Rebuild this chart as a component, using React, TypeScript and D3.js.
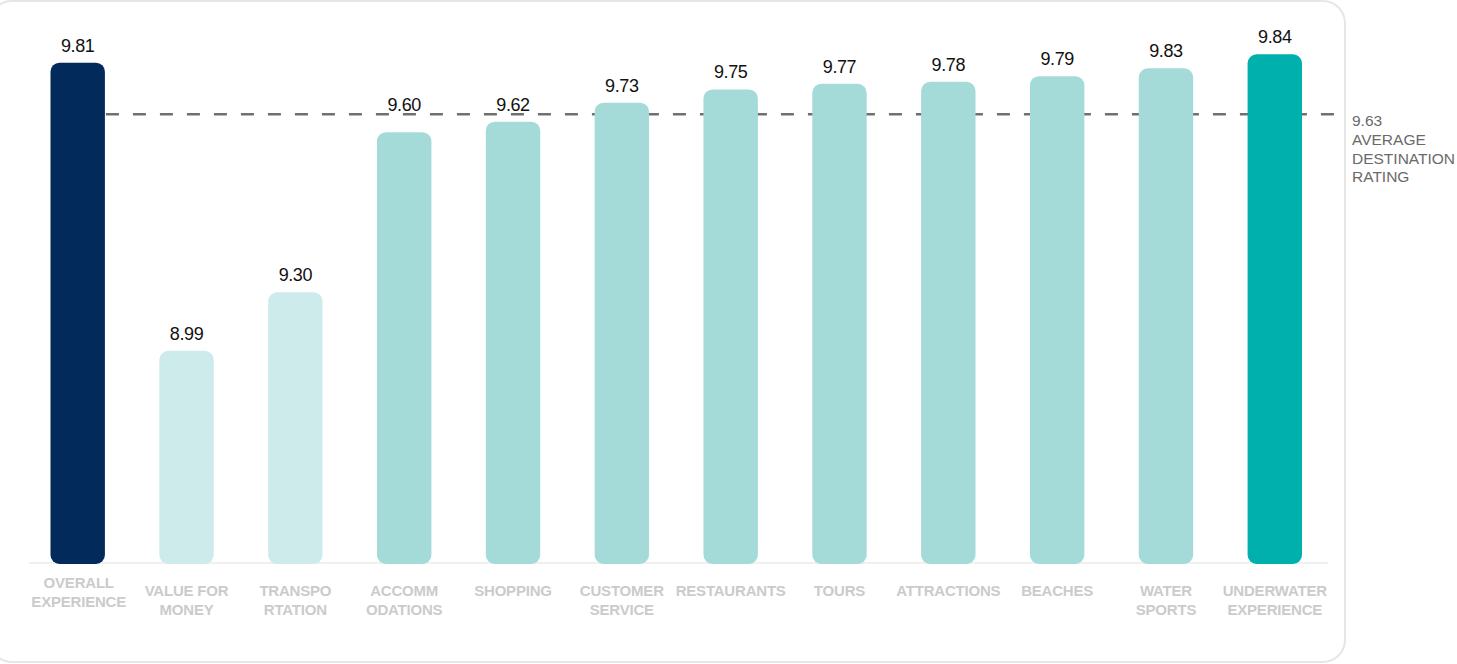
import React from "react";
import * as d3 from "d3";

const categories: string[][] = [
  ["OVERALL", "EXPERIENCE"],
  ["VALUE FOR", "MONEY"],
  ["TRANSPO", "RTATION"],
  ["ACCOMM", "ODATIONS"],
  ["SHOPPING"],
  ["CUSTOMER", "SERVICE"],
  ["RESTAURANTS"],
  ["TOURS"],
  ["ATTRACTIONS"],
  ["BEACHES"],
  ["WATER", "SPORTS"],
  ["UNDERWATER", "EXPERIENCE"],
];
const ratings: number[] = [9.81, 8.99, 9.3, 9.6, 9.62, 9.73, 9.75, 9.77, 9.78, 9.79, 9.83, 9.84];
// Bar heights as drawn in the infographic (index, tallest bar = 100); the artwork is not to scale.
const barLevels: number[] = [98.35, 41.7, 53.2, 84.7, 86.75, 90.5, 93.1, 94.2, 94.6, 95.7, 97.25, 100];
const barTone: string[] = ["overall", "low", "low", "mid", "mid", "mid", "mid", "mid", "mid", "mid", "mid", "top"];
const averageRating = 9.63;
const averageLevel = 88.2;
const averageLabel: string[] = ["AVERAGE", "DESTINATION", "RATING"];

const toneColor: Record<string, string> = {
  overall: "#022b5b",
  low: "#cdebea",
  mid: "#a4dbd9",
  top: "#00b0ad",
};

export default function App() {
  const W = 1457;
  const H = 664;
  const baseY = 563;
  const keys = categories.map((c) => c.join(" "));
  const x = d3.scaleBand<string>().domain(keys).range([50.5, 1302]).paddingInner(0.5).paddingOuter(0);
  const y = d3.scaleLinear().domain([0, 100]).range([baseY, 54.3]);
  const bw = x.bandwidth();
  const avgY = y(averageLevel);
  const fontValue = "'Liberation Sans', Arial, sans-serif";

  const labelY = (top: number) => {
    let b = top - 11;
    // keep value labels clear of the dashed average line
    if (b > avgY - 3 && b - 13 < avgY + 2) b = avgY - 3;
    return b;
  };

  return (
    <div style={{ position: "fixed", left: 0, top: 0, width: W, height: H, background: "#fff" }}>
      <svg width={W} height={H} style={{ display: "block" }}>
        <rect x={-10} y={1} width={1355} height={661} rx={22} fill="#fff" stroke="#e6e6e6" strokeWidth={2} />
        <line x1={29} x2={1328} y1={baseY} y2={baseY} stroke="#f0f0f0" strokeWidth={2} />
        <line
          x1={(x(keys[0]) ?? 0) + bw + 1}
          x2={1343}
          y1={avgY}
          y2={avgY}
          stroke="#707070"
          strokeWidth={2.5}
          strokeDasharray="13 14"
        />
        {keys.map((k, i) => {
          const x0 = x(k) ?? 0;
          const top = y(barLevels[i]);
          return (
            <g key={k}>
              <path
                d={roundedRect(x0, top, bw, baseY + 1 - top, 9)}
                fill={toneColor[barTone[i]]}
              />
              <text
                x={x0 + bw / 2}
                y={labelY(top)}
                textAnchor="middle"
                fontFamily={fontValue}
                fontSize={18}
                letterSpacing={-0.4}
                fill="#111"
              >
                {ratings[i].toFixed(2)}
              </text>
              {categories[i].map((line, j) => (
                <text
                  key={j}
                  x={x0 + bw / 2 + (i === 0 ? 1 : 0)}
                  y={(i === 0 ? 588 : 596) + j * 18.5}
                  textAnchor="middle"
                  fontFamily={fontValue}
                  fontWeight={700}
                  fontSize={15}
                  letterSpacing={-0.2}
                  fill="#cbcbcb"
                >
                  {line}
                </text>
              ))}
            </g>
          );
        })}
        <text x={1352} y={avgY + 12} fontFamily={fontValue} fontSize={15.5} fill="#6a6a6a">
          <tspan x={1352} dy={0}>{averageRating.toFixed(2)}</tspan>
          {averageLabel.map((t, i) => (
            <tspan key={i} x={1352} dy={18.7}>{t}</tspan>
          ))}
        </text>
      </svg>
    </div>
  );
}

function roundedRect(x: number, y: number, w: number, h: number, r: number): string {
  const p = d3.path();
  p.moveTo(x + r, y);
  p.lineTo(x + w - r, y);
  p.arcTo(x + w, y, x + w, y + r, r);
  p.lineTo(x + w, y + h - r);
  p.arcTo(x + w, y + h, x + w - r, y + h, r);
  p.lineTo(x + r, y + h);
  p.arcTo(x, y + h, x, y + h - r, r);
  p.lineTo(x, y + r);
  p.arcTo(x, y, x + r, y, r);
  p.closePath();
  return p.toString();
}
